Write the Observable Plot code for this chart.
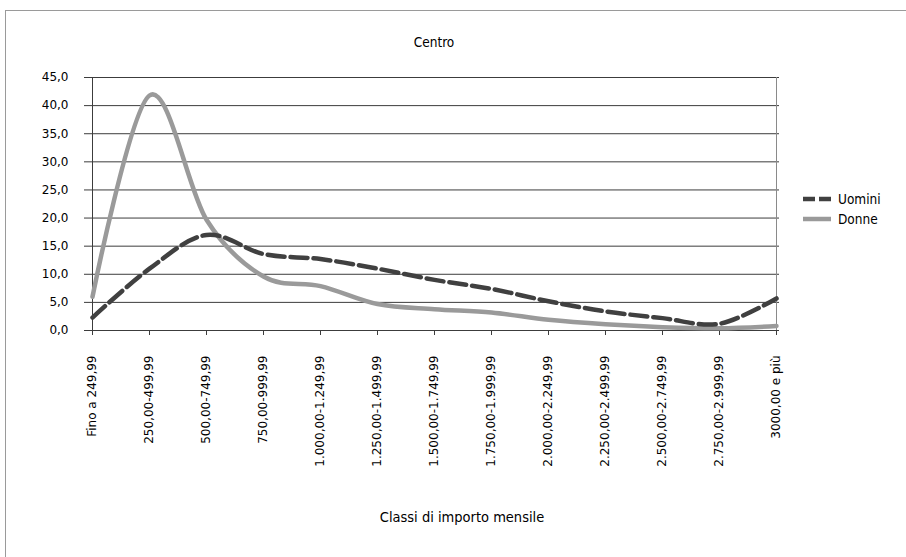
<!DOCTYPE html>
<html>
<head>
<meta charset="utf-8">
<script src="https://cdn.jsdelivr.net/npm/d3@7"></script>
<script src="https://cdn.jsdelivr.net/npm/@observablehq/plot@0.6"></script>
<style>
  body { margin: 0; background: #fff; }
  #wrap { position: relative; width: 906px; height: 557px; overflow: hidden; }
  #frame { position: absolute; left: 5px; top: 10px; width: 1000px; height: 700px;
           border: 1px solid #9a9a9a; box-sizing: border-box; }
  #chart { position: absolute; left: 0; top: 0; }
</style>
</head>
<body>
<div id="wrap"><div id="frame"></div><div id="chart"></div></div>
<script>
// Classi di importo mensile (euro)
const classi = [
  "Fino a 249,99",
  "250,00-499,99",
  "500,00-749,99",
  "750,00-999,99",
  "1.000,00-1.249,99",
  "1.250,00-1.499,99",
  "1.500,00-1.749,99",
  "1.750,00-1.999,99",
  "2.000,00-2.249,99",
  "2.250,00-2.499,99",
  "2.500,00-2.749,99",
  "2.750,00-2.999,99",
  "3000,00 e più"
];

// Distribuzione percentuale per sesso
const uomini = [2.3, 11.0, 17.0, 13.6, 12.7, 11.0, 9.0, 7.4, 5.2, 3.4, 2.2, 1.2, 5.7];
const donne  = [6.0, 41.8, 19.7, 9.6, 7.9, 4.7, 3.8, 3.2, 1.9, 1.1, 0.6, 0.4, 0.8];

const yTicks = [0, 5, 10, 15, 20, 25, 30, 35, 40, 45];

const titolo = "Centro";
const titoloAsseX = "Classi di importo mensile";
const serie = [
  { nome: "Uomini", colore: "#404040", tratteggio: "17,6" },
  { nome: "Donne",  colore: "#9a9a9a", tratteggio: null }
];

const rowsU = classi.map((c, i) => ({ classe: c, valore: uomini[i] }));
const rowsD = classi.map((c, i) => ({ classe: c, valore: donne[i] }));

const fmt = v => v.toFixed(1).replace(".", ",");
const narrow = "'Liberation Sans Narrow', 'DejaVu Sans Condensed', sans-serif";

const chart = Plot.plot({
  width: 906,
  height: 557,
  marginLeft: 88,
  marginRight: 127,
  marginTop: 77,
  marginBottom: 227,
  style: { fontFamily: "'DejaVu Sans', Verdana, sans-serif", fontSize: "12px", color: "#000", background: "transparent", overflow: "visible" },
  x: { type: "point", domain: classi, padding: 0, label: null },
  y: { domain: [0, 45], label: null },
  marks: [
    Plot.ruleY(yTicks, { stroke: "#3c3c3c", strokeWidth: 1, strokeOpacity: 1 }),
    Plot.ruleX([classi[0]], { stroke: "#3c3c3c", strokeOpacity: 1 }),
    Plot.ruleX([classi[classi.length - 1]], { stroke: "#8a8a8a", strokeOpacity: 1 }),
    Plot.axisY({ ticks: yTicks, tickFormat: fmt, tickSize: 4, tickPadding: 16, stroke: "#3c3c3c", label: null }),
    Plot.axisX({ tickRotate: -90, tickSize: 5, tickPadding: 20, stroke: "#3c3c3c", label: null }),
    Plot.line(rowsD, { x: "classe", y: "valore", curve: "cardinal", stroke: serie[1].colore, strokeWidth: 4.5, strokeLinejoin: "round" }),
    Plot.line(rowsU, { x: "classe", y: "valore", curve: "cardinal", stroke: serie[0].colore, strokeWidth: 4.5, strokeDasharray: serie[0].tratteggio }),
    Plot.text([titolo], { frameAnchor: "top", dy: -40, fontFamily: narrow, fontSize: 13.5, fill: "#000" }),
    Plot.text([titoloAsseX], { frameAnchor: "bottom", dx: 28, dy: 191, fontFamily: narrow, fontSize: 14.5, fill: "#000" })
  ]
});

// Legenda a destra dell'area del grafico
const svg = d3.select(chart);
const leg = svg.append("g").attr("transform", "translate(803,199)");
serie.forEach((s, i) => {
  const g = leg.append("g").attr("transform", `translate(0,${i * 20})`);
  g.append("line")
    .attr("x1", 0).attr("x2", 28).attr("y1", 0).attr("y2", 0)
    .attr("stroke", s.colore).attr("stroke-width", 4.5)
    .attr("stroke-dasharray", s.tratteggio ? "12,4" : null);
  g.append("text")
    .attr("x", 35).attr("y", 0).attr("dy", "0.35em")
    .attr("text-anchor", "start")
    .attr("font-family", narrow).attr("font-size", 13.5).attr("fill", "#000")
    .text(s.nome);
});

document.getElementById("chart").appendChild(chart);
</script>
</body>
</html>
